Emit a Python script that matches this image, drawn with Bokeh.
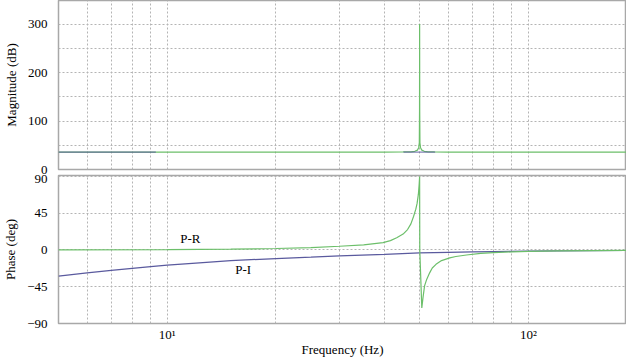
import math
from bokeh.plotting import figure
from bokeh.layouts import column
from bokeh.models import FixedTicker, Range1d, ColumnDataSource
from bokeh.core.properties import value
from bokeh.embed import file_html
from bokeh.resources import INLINE

NaN = float("nan")

# ---- data ----
freq_mag_pr = [5, 40, 45, 47.3, 48.5, 49.3, 49.7, 49.9, 49.97, 50.0, 50.03, 50.1, 50.3, 50.7, 51.5, 52.8, 55, 60, 187]
mag_pr = [36, 36, 36.2, 36.5, 37.5, 40, 45, 55, 120, 300, 120, 55, 45, 40, 37.5, 36.5, 36.2, 36, 36]

freq_mag_pi = [5, 9.3, 30, 45.1, 55.2]
mag_pi = [36, 36, NaN, 35.7, 35.7]

freq_phase_pr = [5, 10, 15, 20, 25, 30, 35, 39.6, 41.5, 43.2, 45, 46.3, 47.3, 48.1, 48.8, 49.2, 49.6,
                 49.85, 50.0, 50.05, 50.7, 51.1, 51.6, 52.3, 53.3, 54.2, 55.5, 57.5, 60.6, 63, 67.4,
                 73.8, 80, 90, 100, 120, 150, 187]
phase_pr = [0.2, 0.5, 1.0, 1.8, 3.0, 4.6, 6.3, 9.0, 11.5, 15, 19.5, 25, 32, 41, 50, 57, 68,
            80, 90, 0, -71, -58, -44, -36, -28, -22, -17.6, -13, -9.6, -8, -6.1,
            -4.1, -3.3, -2.3, -1.8, -1.2, -0.7, -0.4]

freq_phase_pi = [5, 6, 7, 8, 9, 10, 12, 15, 20, 25, 30, 40, 50, 60, 70, 80, 100, 120, 150, 187]
phase_pi = [-31.9, -28.0, -25.0, -22.5, -20.3, -18.5, -16.0, -13.0, -10.5, -8.8, -7.2, -5.3, -3.6,
            -2.9, -2.4, -2.0, -1.5, -1.2, -0.9, -0.6]

label_freq = [10.86, 15.43]
label_phase = [13.5, -23.3]
label_text = ["P-R", "P-I"]

x_ticks = [10, 100]
x_tick_labels = {10: "10\u00b9", 100: "10\u00b2"}
x_grid = [6, 7, 8, 9, 10, 20, 30, 40, 50, 60, 70, 80, 90, 100]
mag_ticks = [0, 100, 200, 300]
mag_grid = [0, 50, 100, 150, 200, 250, 300]
phase_ticks = [-90, -45, 0, 45, 90]

FONT = "'Liberation Serif', 'Times New Roman', serif"
GREEN = "#6cbf6a"
BLUE = "#5a5a9e"
GRID = "#b4b4b4"
OUTLINE = "#a8a8a8"

xr = Range1d(5, 187)


def style(p):
    p.background_fill_color = "white"
    p.border_fill_color = "white"
    p.outline_line_color = OUTLINE
    p.outline_line_width = 1.5
    for g in (p.xgrid, p.ygrid):
        g.grid_line_color = GRID
        g.grid_line_dash = "2 2"
        g.grid_line_width = 1
    for ax in p.axis:
        ax.axis_line_color = None
        ax.major_tick_line_color = None
        ax.minor_tick_line_color = None
        ax.major_label_text_font = FONT
        ax.major_label_text_font_size = "13px"
        ax.major_label_text_color = "black"
        ax.axis_label_text_font = FONT
        ax.axis_label_text_font_size = "13px"
        ax.axis_label_text_font_style = "normal"
        ax.axis_label_text_color = "black"
        ax.major_label_standoff = 5
        ax.axis_label_standoff = 6
    p.xgrid.ticker = FixedTicker(ticks=x_grid)


p1 = figure(frame_width=568, frame_height=169, x_axis_type="log", x_range=xr,
            y_range=Range1d(0, 348.5), x_axis_location=None,
            output_backend="svg", toolbar_location=None,
            min_border_left=47, min_border_right=0, min_border_top=0, min_border_bottom=5)
style(p1)
p1.yaxis.axis_label = "Magnitude (dB)"
p1.yaxis.ticker = FixedTicker(ticks=mag_ticks)
p1.ygrid.ticker = FixedTicker(ticks=mag_grid)
p1.line(freq_mag_pr, mag_pr, line_color=GREEN, line_width=1.2)
p1.line(freq_mag_pi, mag_pi, line_color=BLUE, line_width=1.2, line_alpha=0.75)

p2 = figure(frame_width=568, frame_height=148, x_axis_type="log", x_range=xr,
            y_range=Range1d(-90, 91.2),
            output_backend="svg", toolbar_location=None,
            min_border_left=47, min_border_right=0, min_border_top=1, min_border_bottom=0)
style(p2)
p2.yaxis.axis_label = "Phase (deg)"
p2.yaxis.ticker = FixedTicker(ticks=phase_ticks)
p2.ygrid.ticker = FixedTicker(ticks=phase_ticks)
p2.xaxis.ticker = FixedTicker(ticks=x_ticks)
p2.xaxis.major_label_overrides = x_tick_labels
p2.xaxis.axis_label = "Frequency (Hz)"
p2.xaxis.major_label_standoff = -3
p2.xaxis.axis_label_standoff = -3
p2.line(freq_phase_pi, phase_pi, line_color=BLUE, line_width=1.2)
p2.line(freq_phase_pr, phase_pr, line_color=GREEN, line_width=1.2)

src = ColumnDataSource(dict(x=label_freq, y=label_phase, t=label_text))
p2.text(x="x", y="y", text="t", source=src, text_font=value(FONT), text_font_size="13px",
        text_color="black", text_align="left", text_baseline="middle")

layout = column(p1, p2, spacing=0)
open("out.html", "w").write(file_html(layout, INLINE))
